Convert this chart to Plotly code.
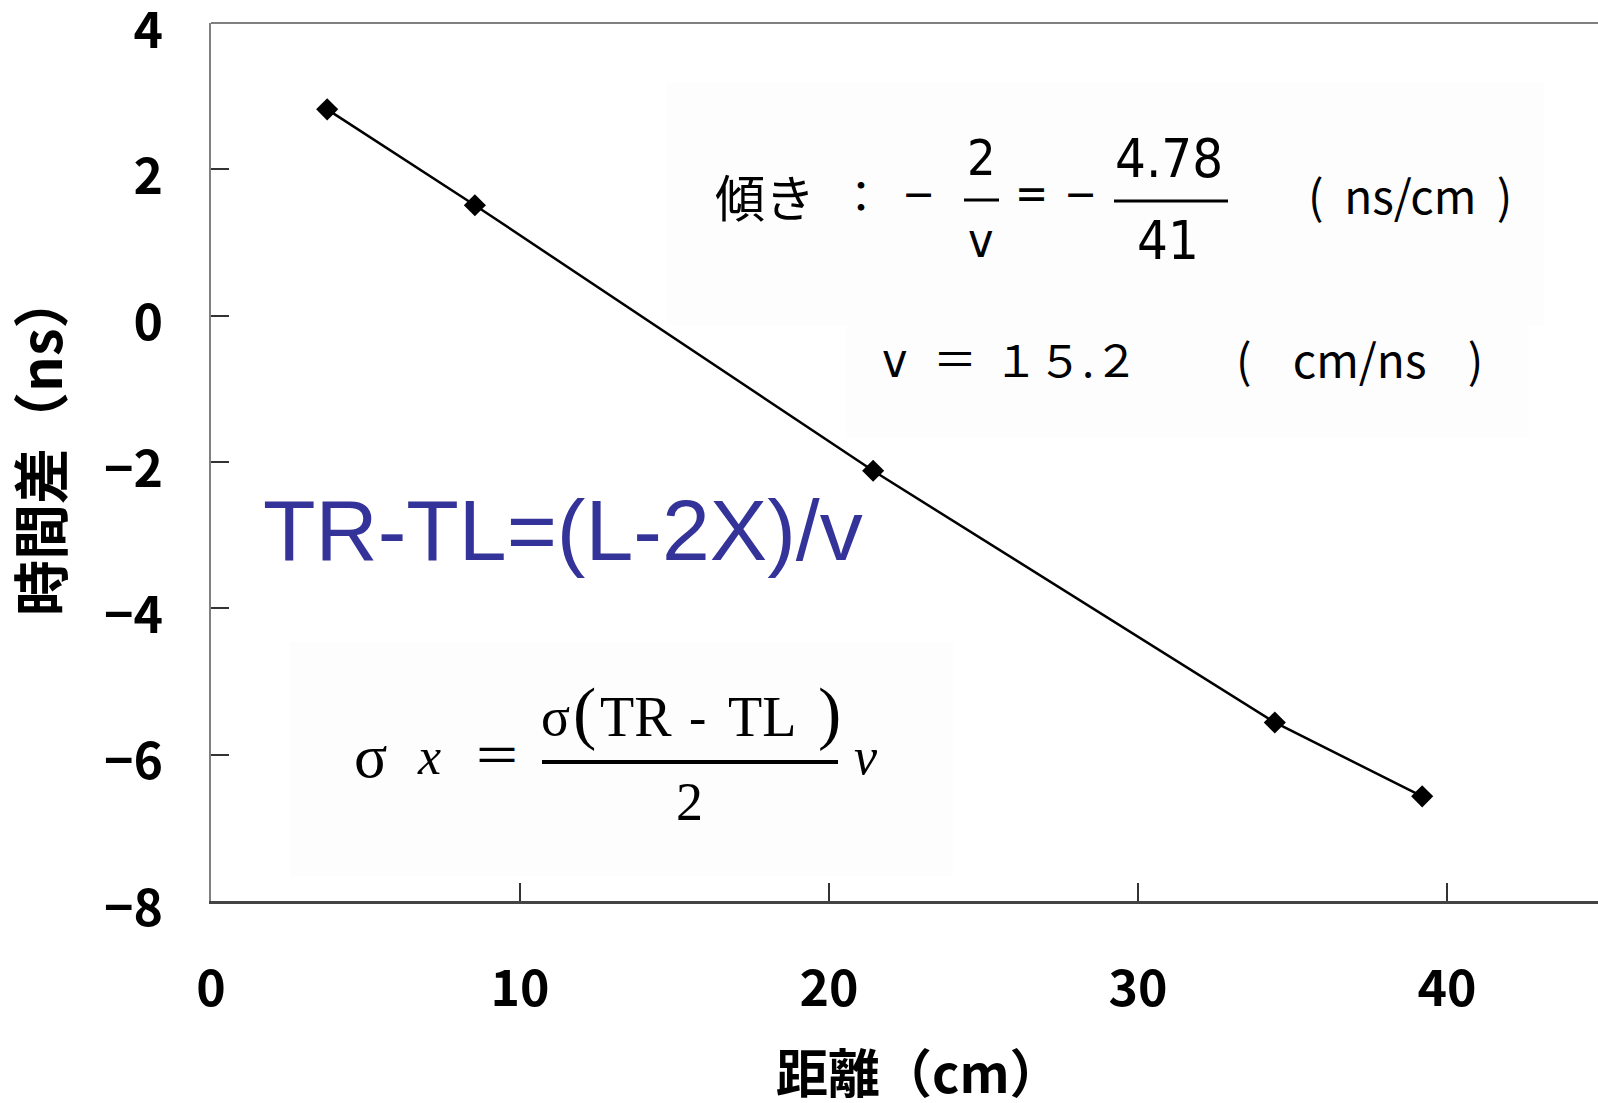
import plotly.graph_objects as go

# ---- data ----
distance_cm = [3.76, 8.54, 21.43, 34.43, 39.20]
time_diff_ns = [2.82, 1.51, -2.12, -5.56, -6.57]

x_ticks = [0, 10, 20, 30, 40]
x_ticklabels = ["0", "10", "20", "30", "40"]
y_ticks = [4, 2, 0, -2, -4, -6, -8]
y_ticklabels = ["4", "2", "0", "\u22122", "\u22124", "\u22126", "\u22128"]

x_title = "距離（cm）"
y_title = "時間差（ns）"
formula_text = "TR-TL=(L-2X)/v"

W, H = 1598, 1103
L, R, T, B = 211, 0, 23, 202
PW, PH = W - L - R, H - T - B


def px(x):
    return (x - L) / PW


def py(y):
    return (H - B - y) / PH


fig = go.Figure()
fig.add_trace(go.Scatter(
    x=distance_cm, y=time_diff_ns, mode="lines+markers",
    line=dict(color="black", width=2.5),
    marker=dict(symbol="diamond", size=17, color="black"),
    showlegend=False, hoverinfo="skip"))

AX_FONT = dict(family="Noto Sans CJK JP, Liberation Sans, sans-serif", size=50, color="black", weight="bold")
XT_FONT = dict(family="Noto Sans CJK JP, Liberation Sans, sans-serif", size=52, color="black", weight="bold")
YT_FONT = dict(family="Noto Sans CJK JP, Liberation Sans, sans-serif", size=56, color="black", weight="bold")

fig.update_layout(
    width=W, height=H,
    margin=dict(l=L, r=R, t=T, b=B, pad=0, autoexpand=False),
    plot_bgcolor="white", paper_bgcolor="white",
    xaxis=dict(range=[0, 44.89], tickvals=x_ticks, ticktext=x_ticklabels,
               ticks="inside", ticklen=18, tickwidth=1.5, tickcolor="#333",
               showline=True, linecolor="#444", linewidth=3, showgrid=False,
               zeroline=False, tickfont=AX_FONT, ticklabelstandoff=42,
               automargin=False, ticklabeloverflow="allow"),
    yaxis=dict(range=[-8, 4], tickvals=y_ticks, ticktext=y_ticklabels,
               ticks="inside", ticklen=18, tickwidth=1.5, tickcolor="#333",
               showline=True, linecolor="#808080", linewidth=2, showgrid=False,
               zeroline=False, tickfont=AX_FONT, ticklabelstandoff=36,
               ticklabelshift=7, automargin=False, ticklabeloverflow="allow"),
)

# axis titles (placed as annotations for exact positioning)
fig.add_annotation(x=px(919), y=py(1070), xref="paper", yref="paper", text=x_title,
                   showarrow=False, xanchor="center", yanchor="middle", font=XT_FONT)
fig.add_annotation(x=px(37), y=py(444), xref="paper", yref="paper", text=y_title,
                   textangle=-90, showarrow=False, xanchor="center", yanchor="middle",
                   font=YT_FONT)

# faint backgrounds of the pasted equation images
for (x0, y0, x1, y1) in [(667, 82, 1544, 326), (846, 326, 1529, 438), (290, 642, 953, 876)]:
    fig.add_shape(type="rect", xref="paper", yref="paper",
                  x0=px(x0), x1=px(x1), y0=py(y1), y1=py(y0),
                  fillcolor="#fdfdfd", line=dict(width=0), layer="below")

# top frame line
fig.add_shape(type="line", xref="paper", yref="paper", x0=0, x1=1, y0=1, y1=1,
              line=dict(color="#808080", width=2))

NARROW = "Liberation Sans Narrow, DejaVu Sans Condensed, Noto Sans CJK JP, sans-serif"
CJK = "Noto Sans CJK JP, sans-serif"
SERIF = "Liberation Serif, DejaVu Serif, serif"


def txt(x, y, s, size, family, color="black"):
    fig.add_annotation(x=px(x), y=py(y), xref="paper", yref="paper", text=s,
                       showarrow=False, xanchor="center", yanchor="middle",
                       font=dict(family=family, size=size, color=color))


def bar(x0, x1, y, w=3):
    fig.add_shape(type="line", xref="paper", yref="paper",
                  x0=px(x0), x1=px(x1), y0=py(y), y1=py(y),
                  line=dict(color="black", width=w))


# slope equation
txt(765, 195, "傾き", 50, CJK)
txt(861, 194, "：", 44, CJK)
txt(918, 194, "−", 44, NARROW)
txt(981, 158, "2", 50, NARROW)
bar(964, 999, 200)
txt(981, 240, "v", 48, NARROW)
txt(1031, 194, "=", 44, NARROW)
txt(1080, 194, "−", 44, NARROW)
txt(1169, 158, "4.78", 54, NARROW)
bar(1114, 1228, 201)
txt(1168, 240, "41", 54, NARROW)
txt(1410, 194, "(  ns/cm  )", 46, CJK)

# velocity
txt(895, 360, "v", 48, NARROW)
txt(955, 357, "＝", 44, CJK)
txt(1066, 358, "１５.２", 44, CJK)
txt(1359, 358, "(    cm/ns    )", 46, CJK)

# main formula
txt(563, 530, formula_text, 86, "Liberation Sans, Arial, sans-serif", color="#333399")

# sigma formula
txt(370, 756, "σ", 62, SERIF)
txt(429, 756, "<i>x</i>", 52, SERIF)
txt(497, 752, "＝", 48, CJK)
txt(555, 717, "σ", 54, SERIF)
txt(584, 712, "(", 70, SERIF)
txt(636, 717, "TR", 56, SERIF)
txt(697, 717, "-", 52, SERIF)
txt(762, 717, "TL", 56, SERIF)
txt(829, 712, ")", 70, SERIF)
bar(542, 838, 762, 4)
txt(689, 802, "2", 54, SERIF)
txt(866, 756, "<i>v</i>", 52, SERIF)

fig.write_html("out.html", config={"displayModeBar": False},
               post_script="document.body.style.margin='0';document.body.style.overflow='hidden';")
